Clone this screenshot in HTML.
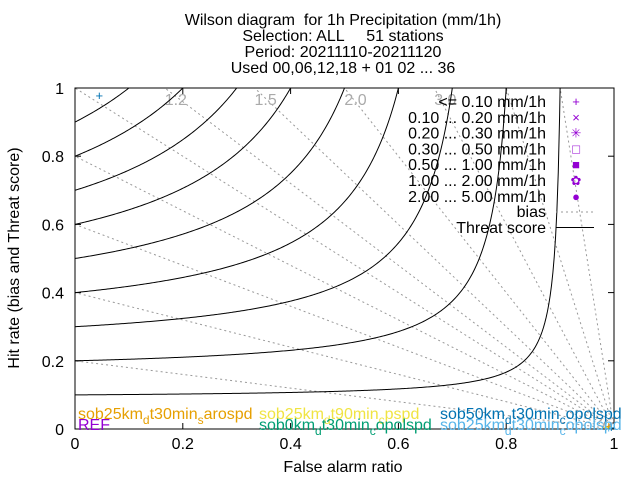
<!DOCTYPE html>
<html><head><meta charset="utf-8"><style>
body{margin:0;background:#fff}
svg{font-family:"Liberation Sans",sans-serif}
</style></head><body>
<svg id="c" width="640" height="480" xmlns="http://www.w3.org/2000/svg">
<g font-size="16" text-anchor="middle" fill="#000" style="white-space:pre">
<text x="343" y="25" xml:space="preserve">Wilson diagram  for 1h Precipitation (mm/1h)</text>
<text x="343" y="41" xml:space="preserve">Selection: ALL     51 stations</text>
<text x="343" y="57">Period: 20211110-20211120</text>
<text x="343" y="73">Used 00,06,12,18 + 01 02 ... 36</text>
</g>
<g id="grid"></g>
<g id="axes"></g>
<g id="marks"></g>
<g id="legend" font-size="16" text-anchor="end"></g>
<g font-size="16">
<text x="78" y="419" fill="#e69f00">sob25km<tspan font-size="12" dy="5">d</tspan><tspan dy="-5">t30min</tspan><tspan font-size="12" dy="5">s</tspan><tspan dy="-5">arospd</tspan></text>
<text x="78" y="430" fill="#9400d3">REF</text>
<text x="259" y="419" fill="#f0e442">sob25km<tspan font-size="12" dy="5">d</tspan><tspan dy="-5">t90min</tspan><tspan font-size="12" dy="5">c</tspan><tspan dy="-5">pspd</tspan></text>
<text x="259" y="430" fill="#009e73">sob0km<tspan font-size="12" dy="5">d</tspan><tspan dy="-5">t30min</tspan><tspan font-size="12" dy="5">c</tspan><tspan dy="-5">opolspd</tspan></text>
<text x="440" y="419" fill="#0072b2">sob50km<tspan font-size="12" dy="5">d</tspan><tspan dy="-5">t30min</tspan><tspan font-size="12" dy="5">c</tspan><tspan dy="-5">opolspd</tspan></text>
<text x="440" y="430" fill="#56b4e9">sob25km<tspan font-size="12" dy="5">d</tspan><tspan dy="-5">t30min</tspan><tspan font-size="12" dy="5">c</tspan><tspan dy="-5">opolspd</tspan></text>
</g>
</svg>
<script>
const biasValues=[0.2,0.4,0.6,0.8,1.0,1.2,1.5,2.0,3.0,5.0,10.0];
const biasLabels=["1.2","1.5","2.0","3.0"];
const tsValues=[0.1,0.2,0.3,0.4,0.5,0.6,0.7,0.8,0.9];
const xTicks=[0,0.2,0.4,0.6,0.8,1];
const yTicks=[0,0.2,0.4,0.6,0.8,1];
const legendLabels=["<= 0.10 mm/1h","0.10 ... 0.20 mm/1h","0.20 ... 0.30 mm/1h","0.30 ... 0.50 mm/1h","0.50 ... 1.00 mm/1h","1.00 ... 2.00 mm/1h","2.00 ... 5.00 mm/1h"];
const legendSymbols=["+","×","✳","□","■","✿","●"];
const pointFar=[0.045,0.985,0.99,0.995,0.99];
const pointHit=[0.977,0.005,0.002,0.003,0.008];
const pointColor=["#0072b2","#f0e442","#56b4e9","#0072b2","#e69f00"];
const X0=75,X1=614,Y0=429,Y1=88;
const sx=v=>X0+v*(X1-X0), sy=v=>Y0-v*(Y0-Y1);
const NS="http://www.w3.org/2000/svg";
function mk(p,t,a){const e=document.createElementNS(NS,t);for(const k in a)e.setAttribute(k,a[k]);p.appendChild(e);return e;}
const grid=document.getElementById('grid'),axes=document.getElementById('axes'),marks=document.getElementById('marks'),leg=document.getElementById('legend');
biasValues.forEach(b=>{
 let F2=b>=1?1-1/b:0,H2=b>=1?1:b;
 const l=mk(grid,'line',{x1:sx(1),y1:sy(0),x2:sx(F2),y2:sy(H2),stroke:'#999','stroke-dasharray':'2,3','stroke-width':1});
 
 
 const lbl=b.toFixed(1);
 if(biasLabels.includes(lbl)){
  const t=mk(grid,'text',{x:sx(F2)+11,y:sy(1)+17,'font-size':16,fill:'#aaa','text-anchor':'middle'});t.textContent=lbl;
  
  
 }
});
tsValues.forEach(ts=>{
 let pts=[];
 for(let i=0;i<=400;i++){const F=i/400*0.999;const d=1/ts+1-1/(1-F);if(d<=0)break;const H=1/d;if(H>1){const Fe=1-ts;pts.push([sx(Fe),sy(1)]);break;}pts.push([sx(F),sy(H)]);}
 const p=mk(grid,'polyline',{points:pts.map(q=>q.join(',')).join(' '),fill:'none',stroke:'#000','stroke-width':1});
 
 
});
const fr=mk(axes,'rect',{x:X0,y:Y1,width:X1-X0,height:Y0-Y1,fill:'none',stroke:'#000'});


xTicks.forEach(v=>{
 mk(axes,'line',{x1:sx(v),y1:Y0,x2:sx(v),y2:Y0-6,stroke:'#000'});mk(axes,'line',{x1:sx(v),y1:Y1,x2:sx(v),y2:Y1+6,stroke:'#000'});
 const t=mk(axes,'text',{x:sx(v),y:Y0+20,'font-size':16,'text-anchor':'middle'});t.textContent=String(v);
 
 
});
yTicks.forEach(v=>{
 mk(axes,'line',{x1:X0,y1:sy(v),x2:X0+6,y2:sy(v),stroke:'#000'});mk(axes,'line',{x1:X1,y1:sy(v),x2:X1-6,y2:sy(v),stroke:'#000'});
 const t=mk(axes,'text',{x:X0-11,y:sy(v)+6,'font-size':16,'text-anchor':'end'});t.textContent=String(v);
 
 
});
let xt=mk(axes,'text',{x:343,y:472,'font-size':16,'text-anchor':'middle'});xt.textContent='False alarm ratio';


let yt=mk(axes,'text',{x:19,y:258,'font-size':16,'text-anchor':'middle',transform:'rotate(-90 19 258)'});yt.textContent='Hit rate (bias and Threat score)';


legendLabels.forEach((s,i)=>{
 const y=107+i*15.8;
 const t=mk(leg,'text',{x:546,y:y});t.textContent=s;
 
 
 const m=mk(leg,'text',{x:576,y:y-1,fill:'#9400d3','font-size':13,'text-anchor':'middle'});m.textContent=legendSymbols[i];
 
 
});
let bt=mk(leg,'text',{x:546,y:217});bt.textContent='bias';


mk(leg,'line',{x1:556,y1:212,x2:594,y2:212,stroke:'#999','stroke-dasharray':'2,3'});
let tt=mk(leg,'text',{x:546,y:233});tt.textContent='Threat score';


mk(leg,'line',{x1:556,y1:227.5,x2:594,y2:227.5,stroke:'#000'});
pointFar.forEach((f,i)=>{
 const t=mk(marks,'text',{x:sx(f),y:sy(pointHit[i])+4,fill:pointColor[i],'font-size':13,'text-anchor':'middle'});t.textContent='+';
 
 
});
</script>
</body></html>
